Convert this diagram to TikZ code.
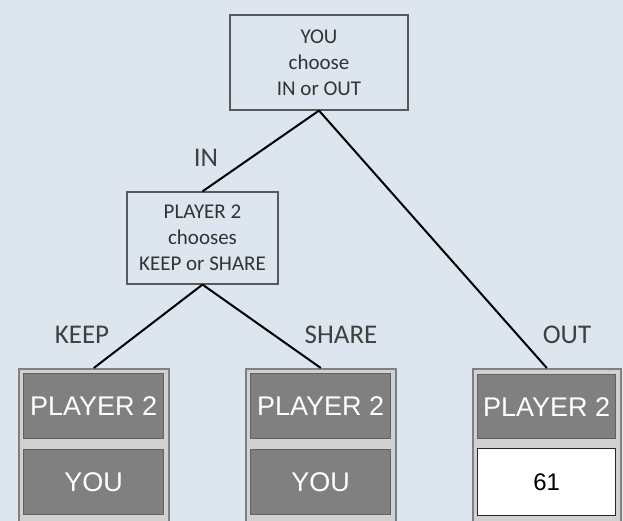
\documentclass[tikz,border=0pt]{standalone}
\usepackage{fontspec}
\setmainfont{Carlito}
\newfontfamily\arialf{Liberation Sans}
\begin{document}
\begin{tikzpicture}[x=1pt,y=-1pt,
  decision/.style={draw=black!65, line width=1.2pt, fill=bgc, align=center, text=black!80, font=\fontsize{21}{26}\selectfont, inner sep=0pt},
  lbl/.style={font=\fontsize{27}{29}\selectfont, text=black!75, inner sep=0pt},
  frame/.style={draw=black!50, line width=1.6pt, fill=black!18, anchor=north west, inner sep=0pt},
  greybox/.style={draw=black!62, line width=1.4pt, fill=black!50, anchor=north west, inner sep=0pt, text=white, font=\arialf\fontsize{27}{30}\selectfont},
  whitebox/.style={draw=black!85, line width=1.2pt, fill=white, anchor=north west, inner sep=0pt, text=black, font=\arialf\fontsize{24}{28}\selectfont},
  edge/.style={draw=black, line width=2pt}
]
\definecolor{bgc}{HTML}{DDE5EE}
\fill[bgc] (0,0) rectangle (623,521);
\useasboundingbox (0,0) rectangle (623,521);

% decision nodes
\node[decision, minimum width=178pt, minimum height=95pt] (root) at (319,62.5) {YOU\\choose\\IN or OUT};
\node[decision, minimum width=151pt, minimum height=92pt] (p2) at (202.5,238) {PLAYER 2\\chooses\\KEEP or SHARE};

% leaf frames
\node[frame, minimum width=150pt, minimum height=155pt] (fL) at (18,368) {};
\node[frame, minimum width=150pt, minimum height=155pt] (fM) at (245,368) {};
\node[frame, minimum width=148pt, minimum height=155pt] (fR) at (472,368) {};

% inner boxes
\node[greybox, minimum width=140pt, minimum height=65pt] (Lp) at (23,373) {PLAYER 2};
\node[greybox, minimum width=140pt, minimum height=65pt] (Ly) at (23,449) {YOU};
\node[greybox, minimum width=140pt, minimum height=65pt] (Mp) at (250,373) {PLAYER 2};
\node[greybox, minimum width=140pt, minimum height=65pt] (My) at (250,449) {YOU};
\node[greybox, minimum width=138pt, minimum height=64pt] (Rp) at (477,374) {PLAYER 2};
\node[whitebox, minimum width=138pt, minimum height=67pt] (Rv) at (477,448) {61};

% connectors
\draw[edge] (root.south) -- (p2.north);
\draw[edge] (root.south) -- (fR.north);
\draw[edge] (p2.south) -- (fL.north);
\draw[edge] (p2.south) -- (fM.north);

% labels
\node[lbl] (tIN) at (206,158) {IN};
\node[lbl] (tKEEP) at (82,335) {KEEP};
\node[lbl] (tSHARE) at (341,335) {SHARE};
\node[lbl] (tOUT) at (567,335) {OUT};
\end{tikzpicture}
\end{document}
